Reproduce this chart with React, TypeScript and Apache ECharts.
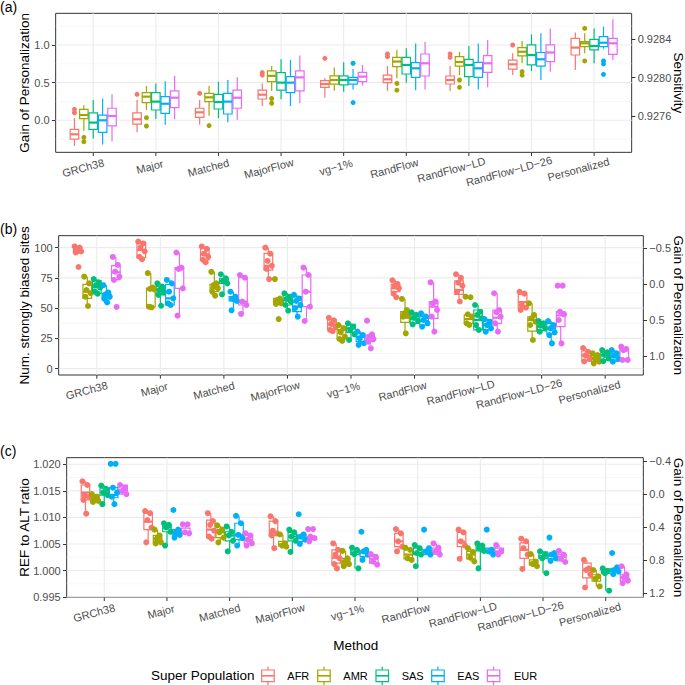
import React, { useEffect, useRef } from 'react';
import * as echarts from 'echarts';

const methods = ['GRCh38', 'Major', 'Matched', 'MajorFlow', 'vg−1%', 'RandFlow', 'RandFlow−LD', 'RandFlow−LD−26', 'Personalized'];
const populations = ['AFR', 'AMR', 'SAS', 'EAS', 'EUR'];
const popColors = ['#F8766D', '#A3A500', '#00BF7D', '#00B0F6', '#E76BF3'];

// tick labels
const gainTicksA = [0, 0.5, 1.0];
const gainMinorA = [-0.25, 0.25, 0.75, 1.25];
const sensTicks = [0.9276, 0.928, 0.9284];
const biasedTicks = [0, 25, 50, 75, 100];
const biasedMinor = [12.5, 37.5, 62.5, 87.5];
const gainTicksB = [-0.5, 0, 0.5, 1.0];
const ratioTicks = [0.995, 1.0, 1.005, 1.01, 1.015, 1.02];
const ratioMinor = [0.9975, 1.0025, 1.0075, 1.0125, 1.0175];
const gainTicksC = [-0.4, 0, 0.4, 0.8, 1.2];

// (a) Gain of Personalization boxes: [lo, q1, median, q3, hi]
const gainBoxAFR = [[-0.34, -0.25, -0.186, -0.12, 0.03], [-0.16, -0.05, 0.013, 0.10, 0.27], [-0.06, 0.04, 0.106, 0.16, 0.27], [0.19, 0.283, 0.34, 0.40, 0.49], [0.30, 0.438, 0.482, 0.527, 0.56], [0.39, 0.50, 0.544, 0.60, 0.72], [0.39, 0.482, 0.535, 0.588, 0.72], [0.60, 0.68, 0.743, 0.80, 0.89], [0.668, 0.867, 0.965, 1.088, 1.164]];
const gainBoxAMR = [[-0.14, 0.022, 0.07, 0.146, 0.20], [0.137, 0.235, 0.314, 0.367, 0.456], [0.062, 0.248, 0.305, 0.358, 0.46], [0.39, 0.513, 0.59, 0.655, 0.72], [0.394, 0.48, 0.535, 0.59, 0.70], [0.557, 0.712, 0.78, 0.836, 0.934], [0.60, 0.72, 0.774, 0.845, 0.91], [0.757, 0.854, 0.91, 0.965, 1.053], [0.89, 0.978, 1.022, 1.044, 1.155]];
const gainBoxSAS = [[-0.24, -0.12, -0.03, 0.10, 0.27], [0.018, 0.137, 0.248, 0.367, 0.49], [0.027, 0.15, 0.243, 0.345, 0.513], [0.28, 0.40, 0.50, 0.633, 0.81], [0.38, 0.47, 0.535, 0.59, 0.77], [0.50, 0.615, 0.735, 0.836, 0.956], [0.456, 0.58, 0.735, 0.81, 0.987], [0.655, 0.735, 0.867, 1.0, 1.14], [0.757, 0.934, 0.987, 1.075, 1.22]];
const gainBoxEAS = [[-0.32, -0.16, 0.0, 0.07, 0.29], [-0.06, 0.093, 0.22, 0.314, 0.52], [-0.027, 0.084, 0.248, 0.358, 0.535], [0.19, 0.367, 0.50, 0.58, 0.80], [0.41, 0.48, 0.535, 0.57, 0.68], [0.40, 0.57, 0.69, 0.765, 1.02], [0.41, 0.57, 0.69, 0.77, 1.02], [0.535, 0.72, 0.81, 0.90, 1.155], [0.95, 0.978, 1.03, 1.11, 1.243]];
const gainBoxEUR = [[-0.28, -0.075, 0.057, 0.16, 0.345], [0.013, 0.168, 0.30, 0.39, 0.59], [0.004, 0.16, 0.30, 0.40, 0.57], [0.226, 0.39, 0.57, 0.655, 0.86], [0.46, 0.513, 0.58, 0.637, 0.735], [0.41, 0.588, 0.757, 0.88, 1.044], [0.438, 0.637, 0.757, 0.858, 1.066], [0.646, 0.78, 0.90, 1.0, 1.22], [0.80, 0.876, 1.022, 1.088, 1.34]];
// (a) outliers per method
const gainOutAFR = [[0.146, 0.10], [0.345], [0.358], [0.633, 0.60], [0.823], [0.88, 0.845], [0.88, 0.836], [1.0], []];
const gainOutAMR = [[-0.226, -0.283], [0.035, -0.075], [-0.07], [0.29, 0.226], [], [0.49, 0.40], [0.535, 0.438], [0.646, 0.60], [1.22, 0.788]];
const gainOutSAS = [[], [], [], [], [], [], [], [], []];
const gainOutEAS = [[], [], [], [], [0.757, 0.235], [], [], [], [0.788, 0.748, 0.61]];
const gainOutEUR = [[], [], [], [], [], [], [], [], []];

// (b) Num. strongly biased sites: points and boxes
const biasedPtsAFR = [[101, 100, 97, 97, 96, 84], [105, 103.5, 100, 97, 92.5, 90.5], [101, 99, 95, 92.5, 90, 88], [100, 95, 89, 85, 82.5, 74], [42, 40, 37, 35, 32, 31], [73, 70, 68.5, 66.5, 62, 59], [78, 75, 71, 68.5, 63.5, 55.5], [63.5, 62, 52.5, 50.5, 48.5], [17, 14, 11, 8, 6]];
const biasedBoxAFR = [[96, 96.5, 97, 98.5, 101], [90.5, 91.7, 98, 104.4, 105.5], [88, 89.8, 94.5, 99.4, 101], [74, 81.5, 85, 95.3, 100], [31, 32.5, 36.5, 40.5, 42], [59, 63.6, 66.4, 69.7, 73], [55.5, 61.4, 65, 72.5, 78], [48.5, 50, 55, 61.5, 63.5], [5.8, 6.5, 10.7, 14.6, 17]];
const biasedPtsAMR = [[76, 70.5, 65, 62.3, 59.5, 51.8], [79, 67, 66, 65.5, 51.2, 50.7], [80, 70.5, 69, 66.5, 63.5, 60.3], [74, 58, 56.7, 54, 53.5, 41], [36, 33.3, 30, 26.4, 24.5, 23], [57.6, 48.5, 45.7, 44.4, 43, 29.2], [59.5, 59, 44.9, 43, 37.5, 36.1], [54, 44.4, 41.6, 38.8, 36.1, 23.7], [12.7, 11.3, 8.5, 5.8, 4.4]];
const biasedBoxAMR = [[51.8, 58.1, 63.6, 69.7, 76], [50.7, 51, 65.5, 66.5, 79], [60.3, 63.6, 66.4, 69.7, 80], [53, 53.2, 55.9, 58.1, 58.1], [23, 24.5, 32, 35, 36], [29.2, 38.3, 42.1, 47.1, 57.6], [36.1, 37.5, 41, 44.4, 44.9], [23.7, 31.1, 40.2, 42.9, 54], [4.4, 6, 8.8, 11.6, 12.7]];
const biasedPtsSAS = [[74, 71.3, 69, 67, 63.6, 62], [70.5, 67.8, 65, 63, 61, 52], [78, 74.7, 72.5, 70.5, 61.4], [62.3, 59.5, 57.6, 55.4, 52.6, 47.9], [37.5, 34.7, 32, 28.4, 23.7], [46.6, 44.4, 42, 39.4, 36.6], [52.6, 47, 44.4, 41.6, 36, 32], [39.4, 37.5, 35.5, 33.3, 30.6], [15.4, 13.5, 11.3, 8.5, 6.3]];
const biasedBoxSAS = [[62, 62.3, 67.2, 72.5, 74], [52, 60.9, 65, 67.8, 70.5], [61.4, 70.5, 72.5, 74.7, 78], [47.9, 52.6, 56.5, 60.9, 62.3], [23.7, 30, 33.3, 36.6, 37.5], [36.6, 37.5, 41, 44.4, 46.6], [32, 32, 40.2, 48.5, 52.6], [30.6, 31.5, 34.8, 38.5, 39.4], [6.3, 7, 11.3, 14, 15.4]];
const biasedPtsEAS = [[69, 63, 61.4, 59.5, 57.6, 54.8], [73.3, 70.5, 63.6, 58.1, 54, 52.6], [63.6, 59.5, 57.6, 56, 48.2], [61, 58, 56, 52.6, 50, 43], [30.6, 27.8, 25, 21, 19.6], [45.7, 43, 40.2, 37.5, 34.7], [41, 38.8, 36, 33.3, 30.6], [39.4, 36, 33.3, 30, 27.8, 20.9], [15.4, 12.7, 10.7, 8, 5.8]];
const biasedBoxEAS = [[54.8, 57.6, 60.3, 62.3, 69], [52.6, 52.6, 58.1, 69.7, 73.3], [48.2, 55.9, 57.6, 59.5, 63.6], [43, 47.1, 51.2, 59.5, 61], [19.6, 22.3, 26.4, 29.2, 30.6], [34.7, 36.1, 39.4, 43, 45.7], [30.6, 32, 36.4, 40.2, 41], [20.9, 28.7, 33.3, 37.5, 39.4], [5.8, 6.3, 10, 12.7, 15.4]];
const biasedPtsEUR = [[92.3, 85.7, 80.2, 76, 73.3, 51], [96, 83.5, 82.4, 66.4, 43.8], [77.4, 75.2, 55.4, 52.6, 45.2], [83.5, 77.4, 63.6, 51.2, 39.4], [39.7, 28.4, 26.4, 24.5, 22.3, 16.8], [71.3, 55.4, 54, 48.5, 43, 30.6], [62.3, 48.5, 46.6, 43, 37.5, 30.6], [68.6, 68.6, 47.1, 44.9, 40.2, 20.9], [18.2, 16.3, 15.4, 7.2, 7.2]];
const biasedBoxEUR = [[73.3, 73.5, 79.6, 85.1, 92.3], [43.8, 66.4, 82.4, 83.5, 96], [45.2, 52.6, 55.4, 75.2, 77.4], [39.4, 51.2, 63.6, 77.4, 83.5], [16.8, 22.3, 25, 27.8, 28.4], [30.6, 41.6, 51.2, 55.4, 71.3], [30.6, 37.5, 42.1, 48.5, 62.3], [20.9, 34.7, 44, 47.1, 47.1], [7.2, 7.2, 15.4, 16.3, 18.2]];

// (c) REF to ALT ratio: points and boxes
const ratioPtsAFR = [[1.0168, 1.0161, 1.0142, 1.0139, 1.0133, 1.0107], [1.0112, 1.0108, 1.0095, 1.0081, 1.0053], [1.0108, 1.0093, 1.0086, 1.0075, 1.0064, 1.006], [1.0102, 1.0093, 1.0075, 1.007, 1.0066, 1.0042], [1.0051, 1.0039, 1.003, 1.0023, 1.0012, 1.0004], [1.0078, 1.007, 1.0055, 1.0045, 1.0036], [1.0077, 1.0072, 1.0055, 1.0047, 1.0022], [1.006, 1.0055, 1.0042, 1.003, 1.0003], [1.002, 1.0004, 1.0001, 0.9993, 0.9968]];
const ratioBoxAFR = [[1.0107, 1.0133, 1.0147, 1.0161, 1.0168], [1.0053, 1.0077, 1.0092, 1.0108, 1.0112], [1.006, 1.0062, 1.0077, 1.0095, 1.0108], [1.0042, 1.0066, 1.0072, 1.0093, 1.0102], [1.0004, 1.0014, 1.0024, 1.0039, 1.0051], [1.0036, 1.0045, 1.0055, 1.007, 1.0078], [1.0022, 1.0045, 1.0054, 1.0072, 1.0077], [1.0003, 1.0023, 1.0039, 1.0052, 1.006], [0.9968, 0.9986, 1.0001, 1.0014, 1.002]];
const ratioPtsAMR = [[1.0144, 1.0139, 1.0135, 1.0131, 1.0129], [1.0077, 1.0066, 1.006, 1.0053, 1.0051], [1.0085, 1.0077, 1.0072, 1.0062, 1.0053], [1.0068, 1.0051, 1.0047, 1.0045], [1.0037, 1.0023, 1.0017, 1.0012, 1.0008], [1.0043, 1.0039, 1.0023, 1.002], [1.0042, 1.0035, 1.0024, 1.0017], [1.0031, 1.0017, 1.0012, 1.0008], [1.0001, 0.9989, 0.9984, 0.997]];
const ratioBoxAMR = [[1.0129, 1.0131, 1.0136, 1.0142, 1.0144], [1.0051, 1.0053, 1.006, 1.0066, 1.0077], [1.0053, 1.0062, 1.0072, 1.0077, 1.0085], [1.0045, 1.0046, 1.0049, 1.0055, 1.0068], [1.0008, 1.0012, 1.0017, 1.0023, 1.0037], [1.002, 1.0022, 1.003, 1.0039, 1.0043], [1.0017, 1.0022, 1.003, 1.0036, 1.0042], [1.0008, 1.001, 1.0015, 1.002, 1.0031], [0.997, 0.998, 0.9987, 0.9992, 1.0001]];
const ratioPtsSAS = [[1.016, 1.0154, 1.0147, 1.0142, 1.0125], [1.0089, 1.0086, 1.0081, 1.0073, 1.0047], [1.0083, 1.0073, 1.0066, 1.0056, 1.0036], [1.0077, 1.0072, 1.0064, 1.0056, 1.0035], [1.0043, 1.0039, 1.0031, 1.0004], [1.0048, 1.0042, 1.0033, 1.003, 1.0008], [1.0051, 1.0047, 1.0042, 1.0037, 1.0004], [1.0036, 1.003, 1.0023, 0.9995], [1.0004, 0.9999, 0.9995, 0.9962]];
const ratioBoxSAS = [[1.0125, 1.0142, 1.0147, 1.0154, 1.016], [1.0047, 1.0073, 1.0081, 1.0086, 1.0089], [1.0036, 1.0056, 1.0066, 1.0073, 1.0083], [1.0035, 1.0056, 1.0064, 1.0072, 1.0077], [1.0004, 1.003, 1.0034, 1.0039, 1.0043], [1.0008, 1.003, 1.0033, 1.0042, 1.0048], [1.0004, 1.0037, 1.0042, 1.0047, 1.0051], [0.9995, 1.0023, 1.0027, 1.0035, 1.0036], [0.9962, 0.9995, 0.9997, 1.0003, 1.0004]];
const ratioPtsEAS = [[1.0201, 1.0201, 1.0156, 1.0147, 1.0139, 1.0125], [1.0114, 1.0077, 1.0072, 1.0067, 1.0062], [1.0103, 1.0089, 1.0067, 1.0061, 1.0047], [1.0106, 1.0068, 1.0064, 1.0058, 1.005], [1.0073, 1.0039, 1.0036, 1.003, 1.002], [1.0077, 1.0042, 1.0036, 1.003], [1.0077, 1.0039, 1.0036, 1.003], [1.0062, 1.0033, 1.003, 1.0023, 1.0018], [1.0033, 1.0006, 1.0001, 0.9998, 0.9993]];
const ratioBoxEAS = [[1.0125, 1.0137, 1.0142, 1.0156, 1.0156], [1.0062, 1.0067, 1.007, 1.0077, 1.0077], [1.0047, 1.0058, 1.0067, 1.0089, 1.0103], [1.005, 1.0055, 1.0061, 1.0067, 1.0068], [1.002, 1.0026, 1.0034, 1.0037, 1.0039], [1.003, 1.003, 1.0036, 1.0039, 1.0042], [1.003, 1.0033, 1.0037, 1.0042, 1.0042], [1.0018, 1.0022, 1.0028, 1.0033, 1.0033], [0.9993, 0.9998, 1.0001, 1.0004, 1.0006]];
const ratioPtsEUR = [[1.0161, 1.0156, 1.015, 1.0144], [1.0087, 1.0087, 1.0072, 1.007], [1.007, 1.0066, 1.0058, 1.0051, 1.0047], [1.0078, 1.0078, 1.0064, 1.0061, 1.0055], [1.0031, 1.0026, 1.0017, 1.0011], [1.0051, 1.0043, 1.0036, 1.003], [1.0048, 1.0036, 1.003], [1.0037, 1.003, 1.0023, 1.0016], [1.0008, 0.9993, 0.9987, 0.9981, 0.9976]];
const ratioBoxEUR = [[1.0144, 1.0144, 1.0151, 1.0161, 1.0161], [1.007, 1.007, 1.0072, 1.008, 1.0087], [1.0047, 1.0051, 1.0058, 1.0066, 1.007], [1.0055, 1.0058, 1.0061, 1.0064, 1.0064], [1.0011, 1.0014, 1.0022, 1.0026, 1.0031], [1.003, 1.0031, 1.0036, 1.0042, 1.0051], [1.003, 1.0033, 1.0036, 1.0042, 1.0048], [1.0016, 1.0018, 1.0026, 1.003, 1.0037], [0.9976, 0.998, 0.9987, 0.9993, 1.0008]];

const gainBoxes = [gainBoxAFR, gainBoxAMR, gainBoxSAS, gainBoxEAS, gainBoxEUR];
const gainOuts = [gainOutAFR, gainOutAMR, gainOutSAS, gainOutEAS, gainOutEUR];
const biasedPts = [biasedPtsAFR, biasedPtsAMR, biasedPtsSAS, biasedPtsEAS, biasedPtsEUR];
const biasedBoxes = [biasedBoxAFR, biasedBoxAMR, biasedBoxSAS, biasedBoxEAS, biasedBoxEUR];
const ratioPts = [ratioPtsAFR, ratioPtsAMR, ratioPtsSAS, ratioPtsEAS, ratioPtsEUR];
const ratioBoxes = [ratioBoxAFR, ratioBoxAMR, ratioBoxSAS, ratioBoxEAS, ratioBoxEUR];

const FONT = '"Liberation Sans", Arial, Helvetica, sans-serif';
const DODGE = 0.15;
const HALF = 0.068;
const JITTER = [-0.8, 0.5, -0.2, 0.9, -0.5, 0.2, 0.7, -0.9];
const JW = 0.06;

let measureCtx: any = null;
function textWidth(s: string, size: number) {
  if (!measureCtx) measureCtx = document.createElement('canvas').getContext('2d');
  measureCtx.font = `${size}px ${FONT}`;
  return measureCtx.measureText(s).width;
}

const fmtMinus = (v: number, d: number) => (Math.abs(v) < 1e-9 ? (0).toFixed(d) : v < 0 ? '−' + Math.abs(v).toFixed(d) : v.toFixed(d));

function buildOption() {
  const panels = [
    { left: 55.67, right: 53.33, top: 13.33, height: 139, yMin: -0.425, yMax: 1.42, y2Min: 0.927221, y2Max: 0.928671, inv: false,
      ticks: gainTicksA, minor: gainMinorA, tickFmt: (v: number) => v.toFixed(1), ticks2: sensTicks, tick2Fmt: (v: number) => v.toFixed(4),
      name: 'Gain of Personalization', name2: 'Sensitivity' },
    { left: 58.67, right: 41.67, top: 235.67, height: 139.33, yMin: -5.23, yMax: 109.9, y2Min: -0.6765, y2Max: 1.265, inv: true,
      ticks: biasedTicks, minor: biasedMinor, tickFmt: (v: number) => String(v), ticks2: gainTicksB, tick2Fmt: (v: number) => fmtMinus(v, 1),
      name: 'Num. strongly biased sites', name2: 'Gain of Personalization' },
    { left: 66.67, right: 41.67, top: 457.67, height: 139.67, yMin: 0.99495, yMax: 1.02125, y2Min: -0.44, y2Max: 1.248, inv: true,
      ticks: ratioTicks, minor: ratioMinor, tickFmt: (v: number) => v.toFixed(3), ticks2: gainTicksC, tick2Fmt: (v: number) => fmtMinus(v, 1),
      name: 'REF to ALT ratio', name2: 'Gain of Personalization' },
  ];

  const grid = panels.map((p) => ({
    left: p.left, right: p.right, top: p.top, height: p.height, show: true,
    backgroundColor: '#FFFFFF', borderColor: '#333333', borderWidth: 1, containLabel: false, outerBoundsMode: 'none',
  }));
  const xAxis = panels.map((p, g) => ({ type: 'value', gridIndex: g, min: -0.6, max: 8.6, show: false }));
  const yAxis: any[] = [];
  panels.forEach((p, g) => {
    yAxis.push({
      type: 'value', gridIndex: g, position: 'left', min: p.yMin, max: p.yMax,
      axisLine: { show: false, onZero: false },
      axisTick: { show: true, length: 3.7, customValues: p.ticks, lineStyle: { color: '#333333', width: 1 } },
      axisLabel: { customValues: p.ticks, formatter: p.tickFmt, color: '#4D4D4D', fontSize: 11, margin: 6, fontFamily: FONT },
      splitLine: { show: false },
    });
    yAxis.push({
      type: 'value', gridIndex: g, position: 'right', min: p.y2Min, max: p.y2Max, inverse: p.inv,
      axisLine: { show: false, onZero: false },
      axisTick: { show: true, length: 3.7, customValues: p.ticks2, lineStyle: { color: '#333333', width: 1 } },
      axisLabel: { customValues: p.ticks2, formatter: p.tick2Fmt, color: '#4D4D4D', fontSize: 11, margin: 6, fontFamily: FONT },
      splitLine: { show: false },
    });
  });

  const series: any[] = [];
  panels.forEach((p, g) => {
    const yi = g * 2;
    // grid lines
    const gl: number[][] = [];
    p.ticks.forEach((v) => gl.push([0, v]));
    p.minor.forEach((v) => gl.push([1, v]));
    methods.forEach((_, i) => gl.push([2, i]));
    series.push({
      type: 'custom', xAxisIndex: g, yAxisIndex: yi, z: 1, silent: true, data: gl,
      renderItem: (params: any, api: any) => {
        const kind = api.value(0);
        const v = api.value(1);
        const cs = params.coordSys;
        if (kind === 2) {
          const x = api.coord([v, p.yMin])[0];
          return { type: 'line', shape: { x1: x, y1: cs.y, x2: x, y2: cs.y + cs.height }, style: { stroke: '#EBEBEB', lineWidth: 1.1 } };
        }
        const y = api.coord([0, v])[1];
        return { type: 'line', shape: { x1: cs.x, y1: y, x2: cs.x + cs.width, y2: y },
          style: { stroke: kind === 0 ? '#EBEBEB' : '#F2F2F2', lineWidth: kind === 0 ? 1.1 : 0.6 } };
      },
    });
    // x ticks + labels
    series.push({
      type: 'custom', xAxisIndex: g, yAxisIndex: yi, z: 2, silent: true, clip: false,
      data: methods.map((_, i) => [i, p.yMin]),
      renderItem: (params: any, api: any) => {
        const i = api.value(0);
        const cs = params.coordSys;
        const bottom = cs.y + cs.height;
        const x = api.coord([i, p.yMin])[0];
        const name = methods[i];
        const L = textWidth(name, 11);
        const a = (15 * Math.PI) / 180;
        const rx = x + 0.22 * L * Math.cos(a);
        const ry = bottom + 7 - 0.22 * L * Math.sin(a);
        return {
          type: 'group',
          children: [
            { type: 'line', shape: { x1: x, y1: bottom, x2: x, y2: bottom + 3.7 }, style: { stroke: '#333333', lineWidth: 1 } },
            { type: 'text', x: rx, y: ry, rotation: a, style: { text: name, fill: '#4D4D4D', fontSize: 11, fontFamily: FONT, align: 'right', verticalAlign: 'top' } },
          ],
        };
      },
    });
  });

  const boxSets = [gainBoxes, biasedBoxes, ratioBoxes];
  panels.forEach((p, g) => {
    populations.forEach((pop, k) => {
      const color = popColors[k];
      series.push({
        type: 'custom', name: pop, xAxisIndex: g, yAxisIndex: g * 2, z: 3, silent: true,
        data: boxSets[g][k].map((r, i) => [i, ...r]),
        renderItem: (params: any, api: any) => {
          const i = api.value(0);
          const cx = i + (k - 2) * DODGE;
          const lo = api.coord([cx, api.value(1)]);
          const q1 = api.coord([cx, api.value(2)])[1];
          const med = api.coord([cx, api.value(3)])[1];
          const q3 = api.coord([cx, api.value(4)])[1];
          const hi = api.coord([cx, api.value(5)])[1];
          const xl = api.coord([cx - HALF, 0])[0];
          const xr = api.coord([cx + HALF, 0])[0];
          const ls = { stroke: color, lineWidth: 1.2 };
          return {
            type: 'group',
            children: [
              { type: 'line', shape: { x1: lo[0], y1: hi, x2: lo[0], y2: q3 }, style: ls },
              { type: 'line', shape: { x1: lo[0], y1: q1, x2: lo[0], y2: lo[1] }, style: ls },
              { type: 'rect', shape: { x: xl, y: q3, width: xr - xl, height: q1 - q3 }, style: { fill: '#FFFFFF', stroke: color, lineWidth: 1.2 } },
              { type: 'line', shape: { x1: xl, y1: med, x2: xr, y2: med }, style: { stroke: color, lineWidth: 2.2 } },
            ],
          };
        },
      });
    });
  });

  // points
  populations.forEach((pop, k) => {
    const out: number[][] = [];
    gainOuts[k].forEach((vals, i) => vals.forEach((v) => out.push([i + (k - 2) * DODGE, v])));
    series.push({ type: 'scatter', name: pop, xAxisIndex: 0, yAxisIndex: 0, z: 4, silent: true, symbolSize: 5, itemStyle: { color: popColors[k], opacity: 1 }, data: out });
  });
  [biasedPts, ratioPts].forEach((set, s) => {
    const g = s + 1;
    populations.forEach((pop, k) => {
      const out: number[][] = [];
      set[k].forEach((vals, i) => vals.forEach((v, j) => out.push([i + (k - 2) * DODGE + JITTER[j % JITTER.length] * JW, v])));
      series.push({ type: 'scatter', name: pop, xAxisIndex: g, yAxisIndex: g * 2, z: 4, silent: true, symbolSize: 6, itemStyle: { color: popColors[k], opacity: 1 }, data: out });
    });
  });

  // graphics: panel tags, axis titles, x title, legend
  const titleStyle = { fontSize: 13.5, fill: '#000', fontFamily: FONT, align: 'center', verticalAlign: 'middle' };
  const graphic: any[] = [
    { type: 'text', x: 0, y: 6.7, style: { text: '(a)', fontSize: 14, fill: '#000', fontFamily: FONT, verticalAlign: 'middle' } },
    { type: 'text', x: 0, y: 228.7, style: { text: '(b)', fontSize: 14, fill: '#000', fontFamily: FONT, verticalAlign: 'middle' } },
    { type: 'text', x: 0, y: 450.5, style: { text: '(c)', fontSize: 14, fill: '#000', fontFamily: FONT, verticalAlign: 'middle' } },
    { type: 'text', x: 355.7, y: 645, style: { text: 'Method', ...titleStyle } },
    { type: 'text', x: 151, y: 675.7, style: { text: 'Super Population', fontSize: 13.5, fill: '#000', fontFamily: FONT, verticalAlign: 'middle' } },
  ];
  panels.forEach((p) => {
    const cy = p.top + p.height / 2;
    graphic.push({ type: 'text', x: 24, y: cy, rotation: Math.PI / 2, style: { text: p.name, ...titleStyle } });
    graphic.push({ type: 'text', x: 678.3, y: cy, rotation: -Math.PI / 2, style: { text: p.name2, ...titleStyle } });
  });
  const iconX = [261.7, 317.7, 376, 431.7, 487.3];
  const labelX = [287.3, 343.3, 401.7, 457.3, 514];
  populations.forEach((pop, k) => {
    const x0 = iconX[k];
    const c = popColors[k];
    graphic.push(
      { type: 'line', shape: { x1: x0 + 6.25, y1: 666.5, x2: x0 + 6.25, y2: 685 }, style: { stroke: c, lineWidth: 1.2 } },
      { type: 'rect', shape: { x: x0, y: 670, width: 12.5, height: 11.7 }, style: { fill: '#FFFFFF', stroke: c, lineWidth: 1.2 } },
      { type: 'line', shape: { x1: x0, y1: 675.8, x2: x0 + 12.5, y2: 675.8 }, style: { stroke: c, lineWidth: 1.6 } },
      { type: 'text', x: labelX[k], y: 675.7, style: { text: pop, fontSize: 11, fill: '#000', fontFamily: FONT, verticalAlign: 'middle' } },
    );
  });

  return {
    animation: false,
    backgroundColor: '#FFFFFF',
    textStyle: { fontFamily: FONT },
    grid, xAxis, yAxis, series, graphic,
  };
}

export default function App() {
  const ref = useRef<HTMLDivElement>(null);
  useEffect(() => {
    if (!ref.current) return;
    const chart = echarts.init(ref.current, null, { renderer: 'svg' });
    chart.setOption(buildOption() as any);
    return () => chart.dispose();
  }, []);
  return <div ref={ref} style={{ position: 'absolute', left: 0, top: 0, width: 685, height: 685 }} />;
}
